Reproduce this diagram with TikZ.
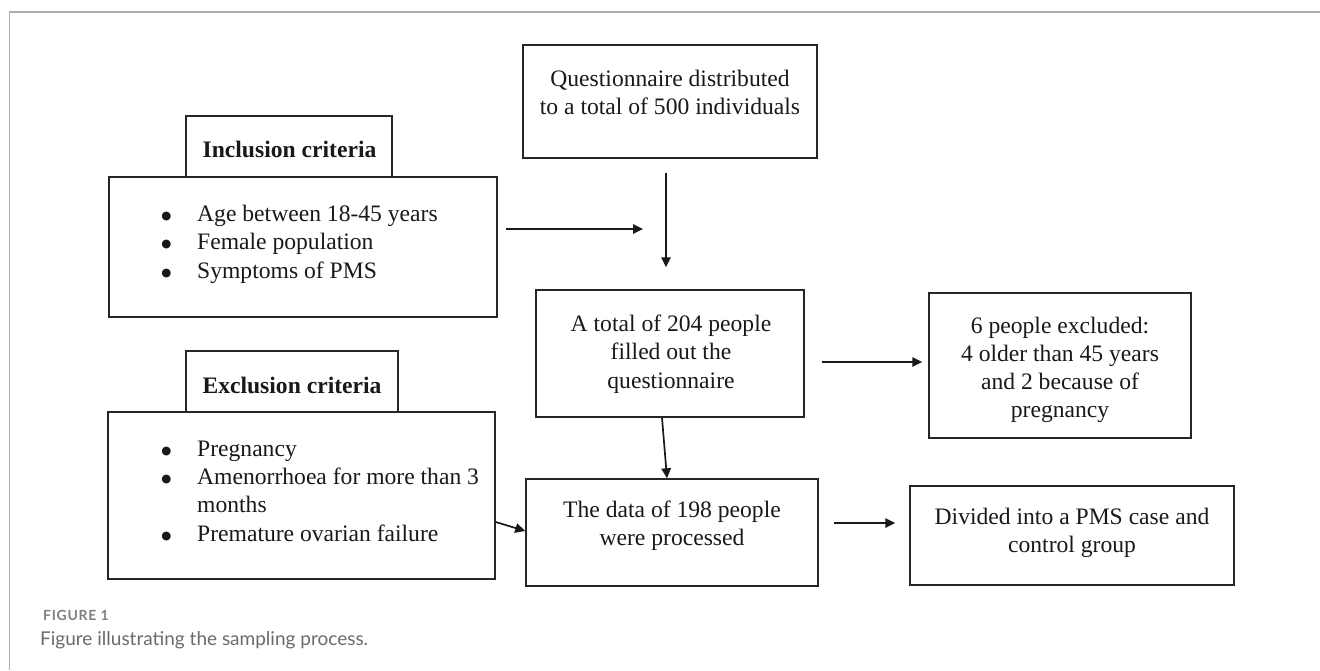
\documentclass[tikz,border=0pt]{standalone}
\usepackage{fontspec}
\setmainfont{Liberation Serif}
\newfontfamily\capfont{Lato}
\newfontfamily\capfontsp[LetterSpace=5]{Lato}
\newfontfamily\bulfont{DejaVu Sans}
\usetikzlibrary{arrows.meta}
\begin{document}
\begin{tikzpicture}[x=1bp,y=-1bp,
  box/.style={draw=black!85, line width=1.5bp, inner sep=0pt, rectangle},
  txt/.style={inner sep=0pt, anchor=base, font=\fontsize{23.6bp}{28.5bp}\selectfont, text=black!90},
  ltxt/.style={txt, anchor=base west},
  bul/.style={inner sep=0pt, anchor=base, font=\bulfont\fontsize{11.5bp}{12bp}\selectfont, text=black!90},
  arr/.style={line width=1.7bp, draw=black!90, -{Triangle[length=10bp,width=9.5bp]}},
  capA/.style={inner sep=0pt, anchor=base west, font=\capfontsp\bfseries\fontsize{14bp}{16bp}\selectfont, text=black!50},
  capB/.style={inner sep=0pt, anchor=base west, font=\capfont\fontsize{19bp}{22bp}\selectfont, text=black!58},
]
\useasboundingbox (0,0) rectangle (1320,670);
\fill[white] (0,0) rectangle (1320,670);
\draw[black!32, line width=1.8bp] (9.5,670) -- (9.5,12) -- (1320,12);

% boxes
\node[box, minimum width=294bp, minimum height=113bp] (q) at (670,101.5) {};
\node[box, minimum width=206bp, minimum height=61bp] (inclh) at (289,146.5) {};
\node[box, minimum width=388bp, minimum height=140bp] (incl) at (303,247) {};
\node[box, minimum width=268bp, minimum height=127bp] (n204) at (670,353.5) {};
\node[box, minimum width=262bp, minimum height=145bp] (n6) at (1060,365.5) {};
\node[box, minimum width=212bp, minimum height=61bp] (exclh) at (292,381.5) {};
\node[box, minimum width=387bp, minimum height=167bp] (excl) at (301.5,495.5) {};
\node[box, minimum width=292bp, minimum height=107bp] (n198) at (672,532.5) {};
\node[box, minimum width=324bp, minimum height=99bp] (div) at (1072,535.5) {};

% texts
\node[txt] (q1) at (670,87) {Questionnaire distributed};
\node[txt] (q2) at (670,115) {to a total of 500 individuals};

\node[txt, font=\fontsize{23.6bp}{28.5bp}\selectfont\bfseries] (inclht) at (289.5,157) {Inclusion criteria};
\node[bul] (ib1) at (166.5,219) {●};
\node[ltxt] (it1) at (197,221) {Age between 18-45 years};
\node[bul] (ib2) at (166.5,247.5) {●};
\node[ltxt] (it2) at (197,249.5) {Female population};
\node[bul] (ib3) at (166.5,276) {●};
\node[ltxt] (it3) at (197,278) {Symptoms of PMS};

\node[txt] (a1) at (671,331) {A total of 204 people};
\node[txt] (a2) at (671,359.5) {filled out the};
\node[txt] (a3) at (671,388) {questionnaire};

\node[txt] (s1) at (1060,333) {6 people excluded:};
\node[txt] (s2) at (1060,361) {4 older than 45 years};
\node[txt] (s3) at (1060,389) {and 2 because of};
\node[txt] (s4) at (1060,417) {pregnancy};

\node[txt, font=\fontsize{23.6bp}{28.5bp}\selectfont\bfseries] (exclht) at (292,393) {Exclusion criteria};
\node[bul] (eb1) at (166.5,454) {●};
\node[ltxt] (et1) at (197,456) {Pregnancy};
\node[bul] (eb2) at (166.5,482) {●};
\node[ltxt] (et2) at (197,484) {Amenorrhoea for more than 3};
\node[ltxt] (et2b) at (197,512.5) {months};
\node[bul] (eb3) at (166.5,539) {●};
\node[ltxt] (et3) at (197,541) {Premature ovarian failure};

\node[txt] (d1) at (672,517) {The data of 198 people};
\node[txt] (d2) at (672,545.5) {were processed};

\node[txt] (v1) at (1072,524) {Divided into a PMS case and};
\node[txt] (v2) at (1072,552) {control group};

% connectors
\coordinate (join) at (643,229);
\draw[arr, shorten <=8bp] (incl.east |- join) -- (join);
\draw[arr, shorten <=14bp, shorten >=22bp] (q.south -| 666,0) -- (n204.north -| 666,0);
\draw[arr, shorten <=17bp, shorten >=6bp] (n204.east |- 0,362) -- (n6.west |- 0,362);
\draw[arr] (n204.south -| 662,0) -- (n198.north -| 667,0);
\draw[arr] (excl.east |- 0,522) -- (n198.west |- 0,531);
\draw[arr, shorten <=15bp, shorten >=14bp] (n198.east |- 0,523) -- (div.west |- 0,523);

% caption
\node[capA] (cap1) at (43,620) {FIGURE 1};
\node[capB] (cap2) at (40,645) {Figure illustrating the sampling process.};
\end{tikzpicture}
\end{document}
